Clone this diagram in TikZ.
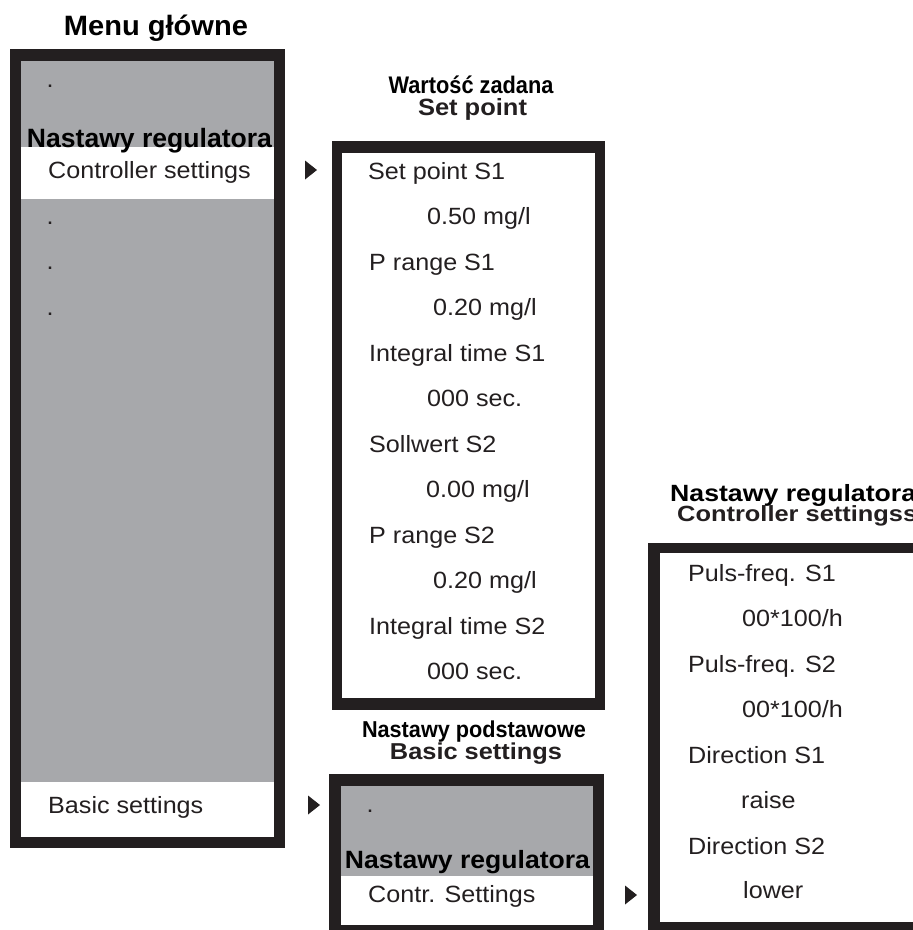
\documentclass[tikz,border=0pt]{standalone}
\usepackage{fontspec}
\usepackage{graphicx}
\setmainfont{Liberation Sans}
\newfontfamily\regf[FakeStretch=1.07]{Liberation Sans}
\definecolor{framec}{HTML}{231F20}
\definecolor{panelc}{HTML}{A7A8AB}
\definecolor{inkc}{HTML}{231F20}
\newcommand\fitw[3]{{\fontsize{#1}{#1}\selectfont\bfseries\resizebox{#2pt}{\height}{#3}}}
\tikzset{
  item/.style={anchor=base west, inner sep=0pt, font=\regf\fontsize{23.5}{28}\selectfont, text=inkc},
  ttl/.style={anchor=base, inner sep=0pt, text=black},
  ttlw/.style={anchor=base west, inner sep=0pt, text=black},
  marker/.style={fill=framec},
  frameouter/.style={fill=framec},
  graypanel/.style={fill=panelc},
  whitepanel/.style={fill=white},
}
\begin{document}
\begin{tikzpicture}[x=1pt,y=-1pt]
\useasboundingbox (0,0) rectangle (913,930);
\clip (0,0) rectangle (913,930);
\fill[white] (0,0) rectangle (913,930);

% ---- left box (Menu glowne)
\fill[frameouter] (10,49) rectangle (285,848);
\fill[graypanel] (21,61) rectangle (274,837);
\fill[whitepanel] (21,147) rectangle (274,199);
\fill[whitepanel] (21,782) rectangle (274,837);

% ---- middle box (Set point)
\fill[frameouter] (332,141) rectangle (605,710);
\fill[whitepanel] (342,153) rectangle (595,698);

% ---- bottom middle box (Basic settings)
\fill[frameouter] (329,774) rectangle (604,940);
\fill[graypanel] (341,786) rectangle (593,876);
\fill[whitepanel] (341,876) rectangle (593,925);

% ---- right box (Controller settings)
\fill[frameouter] (648,543) rectangle (940,940);
\fill[whitepanel] (660,553) rectangle (930,922);

% ---- markers
\fill[marker, shift={(311,170)}] (-6,-9.5) -- (6,0) -- (-6,9.5) -- cycle;
\fill[marker, shift={(314,805)}] (-6,-9.5) -- (6,0) -- (-6,9.5) -- cycle;
\fill[marker, shift={(631,895)}] (-6,-9.5) -- (6,0) -- (-6,9.5) -- cycle;

% ---- titles
\node[ttl] (tmenu) at (156,35) {\fitw{28}{184}{Menu główne}};
\node[ttl] (tnr1) at (149.5,147) {\fitw{26.5}{245}{Nastawy regulatora}};
\node[ttl] (twz) at (471,93) {\fitw{24}{165}{Wartość zadana}};
\node[ttl, text=inkc] (tsp) at (472.5,115) {\fitw{23.5}{109}{Set point}};
\node[ttl] (tnp) at (474,737) {\fitw{23}{224}{Nastawy podstawowe}};
\node[ttl, text=inkc] (tbs) at (476,759) {\fitw{23}{172}{Basic settings}};
\node[ttl] (tnr2) at (467.5,868) {\fitw{25}{245}{Nastawy regulatora}};
\node[ttlw] (tnr3) at (670,501) {\fitw{23.5}{246}{Nastawy regulatora}};
\node[ttlw, text=inkc] (tcs) at (677,521) {\fitw{22}{240}{Controller settingss}};

% ---- left box items
\node[item] (d1) at (46.5,87) {.};
\node[item] (cs) at (48,178) {Controller settings};
\node[item] (d2) at (46.5,224) {.};
\node[item] (d3) at (46.5,269) {.};
\node[item] (d4) at (46.5,315) {.};
\node[item] (bs) at (48,813) {Basic settings};

% ---- middle box items
\node[item] (s1) at (368,179) {Set point S1};
\node[item] (v1) at (427,224.5) {0.50 mg/l};
\node[item] (s2) at (369,270) {P range S1};
\node[item] (v2) at (433,315.5) {0.20 mg/l};
\node[item] (s3) at (369,361) {Integral time S1};
\node[item] (v3) at (427,406.5) {000 sec.};
\node[item] (s4) at (369,452) {Sollwert S2};
\node[item] (v4) at (426,497.5) {0.00 mg/l};
\node[item] (s5) at (369,543) {P range S2};
\node[item] (v5) at (433,588.5) {0.20 mg/l};
\node[item] (s6) at (369,634) {Integral time S2};
\node[item] (v6) at (427,679.5) {000 sec.};

% ---- bottom middle box items
\node[item] (d5) at (366.5,812) {.};
\node[item] (ctr) at (368,902) {Contr. Settings};

% ---- right box items
\node[item] (r1) at (688,581) {Puls-freq. S1};
\node[item] (w1) at (742,626.5) {00*100/h};
\node[item] (r2) at (688,672) {Puls-freq. S2};
\node[item] (w2) at (742,717.5) {00*100/h};
\node[item] (r3) at (688,763) {Direction S1};
\node[item] (w3) at (741,808.5) {raise};
\node[item] (r4) at (688,854) {Direction S2};
\node[item] (w4) at (743,898) {lower};
\end{tikzpicture}
\end{document}
